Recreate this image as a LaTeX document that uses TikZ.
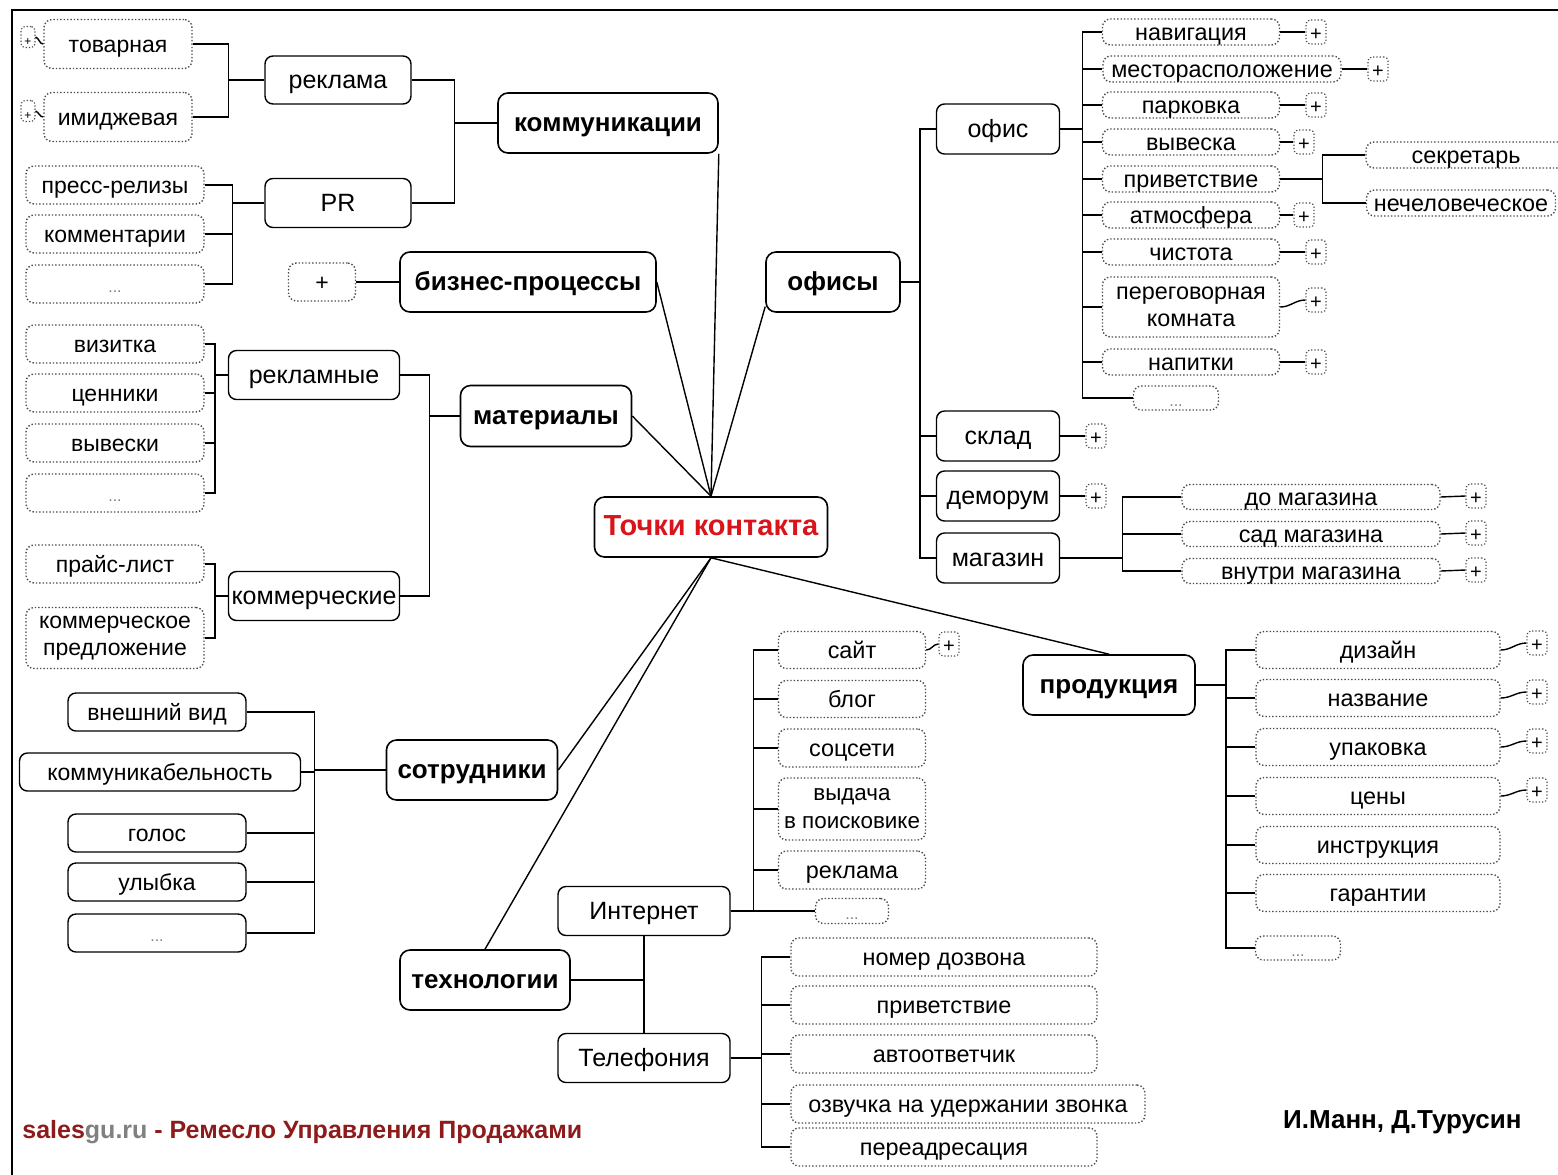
\documentclass[tikz,border=0pt]{standalone}
\usepackage{fontspec}
\setmainfont{Liberation Sans}
\usetikzlibrary{positioning}
\definecolor{hubred}{HTML}{D9141B}
\definecolor{salesred}{HTML}{8E1B1B}

\begin{document}
\begin{tikzpicture}[x=0.5pt, y=-0.5pt,
    every node/.style={inner sep=0pt, font=\fontsize{11.7}{13.5}\selectfont, text height=1.8ex, text depth=0.2ex},
    sz/.style 2 args={minimum width=#1*0.5pt, minimum height=#2*0.5pt},
    twolines/.style={text height={}, text depth={}},
    main/.style={draw, rounded corners=5pt, line width=0.8pt, font=\fontsize{13}{15}\selectfont\bfseries},
    sub/.style={draw, rounded corners=4pt, line width=0.7pt, font=\fontsize{12.5}{14}\selectfont},
    item/.style={draw, rounded corners=4pt, line width=0.7pt, font=\fontsize{11.5}{13}\selectfont},
    leaf/.style={draw=black!70, densely dotted, line width=0.7pt, rounded corners=4pt, align=center},
    lleaf/.style={leaf, font=\fontsize{11.5}{13.5}\selectfont},
    etc/.style={text=gray, font=\fontsize{8}{8}\selectfont},
    plusbox/.style={draw=black!70, densely dotted, line width=0.6pt, rounded corners=2pt, minimum width=10pt, minimum height=12pt, font=\fontsize{10}{10}\selectfont},
    link/.style={line width=0.7pt},
]
\useasboundingbox (0,0) rectangle (1558,1174);
% frame
\draw[line width=1pt] (1560,10) -- (12,10) -- (12,1176);

% centre
\node[main, sz={233}{60}, text=hubred, font=\fontsize{14.5}{16}\selectfont\bfseries] (hub) at (711,527) {Точки контакта};

% main topics
\node[main, sz={220}{60}] (kom) at (608,123) {коммуникации};
\node[main, sz={256}{60}] (biz) at (528,282) {бизнес-процессы};
\node[main, sz={171}{61}] (mat) at (546,416) {материалы};
\node[main, sz={134}{60}] (ofs) at (833,282) {офисы};
\node[main, sz={172}{60}] (prd) at (1109,685) {продукция};
\node[main, sz={171}{60}] (sot) at (472,770) {сотрудники};
\node[main, sz={170}{60}] (tec) at (485,980) {технологии};

% spokes
\draw[link] (hub.north) -- (kom.south east);
\draw[link] (hub.north) -- (biz.east);
\draw[link] (hub.north) -- (mat.east);
\draw[link] (hub.north) -- (ofs.200);
\draw[link] (hub.south) -- (sot.east);
\draw[link] (hub.south) -- (tec.north);
\draw[link] (hub.south) -- (prd.north);

% communications
\node[sub, sz={146}{48}] (rek) at (338,80) {реклама};
\node[sub, sz={146}{49}] (pr) at (338,203) {PR};
\node[lleaf, sz={148}{49}] (tov) at (118,44) {товарная};
\node[lleaf, sz={148}{49}] (imi) at (118,117) {имиджевая};
\node[plusbox, minimum width=7pt, minimum height=7pt, font=\fontsize{6}{6}\selectfont] (tov-p) at (28,37) {+};
\node[plusbox, minimum width=7pt, minimum height=7pt, font=\fontsize{6}{6}\selectfont] (imi-p) at (28,111) {+};
\node[lleaf, sz={178}{38}] (prs) at (115,185) {пресс-релизы};
\node[lleaf, sz={178}{38}] (kmt) at (115,234) {комментарии};
\node[lleaf, etc, sz={178}{38}] (prx) at (115,284) {...};
\foreach \c in {rek,pr} \draw[link] (kom.west) -- ++(-43,0) |- (\c.east);
\foreach \c in {tov,imi} \draw[link] (rek.west) -- ++(-36,0) |- (\c.east);
\foreach \c in {prs,kmt,prx} \draw[link] (pr.west) -- ++(-32,0) |- (\c.east);
\foreach \c in {tov,imi} \draw[link] (\c-p.east) to[out=-20,in=180] (\c.west);

% business processes
\node[lleaf, sz={67}{38}] (biz-p) at (322,282) {+};
\draw[link] (biz.west) -- (biz-p.east);

% materials
\node[sub, sz={171}{49}] (rkn) at (314,375) {рекламные};
\node[sub, sz={171}{49}] (kmc) at (314,596) {коммерческие};
\node[lleaf, sz={178}{38}] (viz) at (115,344) {визитка};
\node[lleaf, sz={178}{38}] (cnn) at (115,393) {ценники};
\node[lleaf, sz={178}{38}] (vvs) at (115,443) {вывески};
\node[lleaf, etc, sz={178}{38}] (rkx) at (115,493) {...};
\node[lleaf, twolines, sz={178}{61}] (kpr) at (115,638) {коммерческое\\предложение};
\node[lleaf, sz={178}{38}] (prl) at (115,564) {прайс-лист};
\foreach \c in {rkn,kmc} \draw[link] (mat.west) -- ++(-30,0) |- (\c.east);
\foreach \c in {viz,cnn,vvs,rkx} \draw[link] (rkn.west) -- ++(-13,0) |- (\c.east);
\foreach \c in {prl,kpr} \draw[link] (kmc.west) -- ++(-13,0) |- (\c.east);

% staff
\node[item, sz={178}{38}] (vnv) at (157,712) {внешний вид};
\node[item, sz={281}{38}] (kmb) at (160,772) {коммуникабельность};
\node[item, sz={178}{38}] (gol) at (157,833) {голос};
\node[item, sz={178}{38}] (uly) at (157,882) {улыбка};
\node[item, etc, sz={178}{38}] (sox) at (157,933) {...};
\foreach \c in {vnv,kmb,gol,uly,sox} \draw[link] (sot.west) -- ++(-71,0) |- (\c.east);

% offices
\node[sub, sz={123}{50}] (ofc) at (998,129) {офис};
\node[sub, sz={123}{50}] (skl) at (998,436) {склад};
\node[sub, sz={123}{50}] (dem) at (998,496) {деморум};
\node[sub, sz={123}{50}] (mag) at (998,558) {магазин};
\foreach \c in {ofc,skl,dem,mag} \draw[link] (ofs.east) -- ++(19,0) |- (\c.west);

\node[leaf, sz={177}{26}] (nav) at (1191,32) {навигация};
\node[leaf, sz={238}{26}] (mst) at (1222,69) {месторасположение};
\node[leaf, sz={177}{26}] (prk) at (1191,105) {парковка};
\node[leaf, sz={177}{26}] (vvk) at (1191,142) {вывеска};
\node[leaf, sz={177}{26}] (prv) at (1191,179) {приветствие};
\node[leaf, sz={177}{26}] (atm) at (1191,215) {атмосфера};
\node[leaf, sz={177}{26}] (cht) at (1191,252) {чистота};
\node[leaf, twolines, sz={177}{60}] (pgk) at (1191,307) {переговорная\\комната};
\node[leaf, sz={177}{26}] (npt) at (1191,362) {напитки};
\node[leaf, etc, sz={85}{24}] (ofx) at (1176,398) {...};
\foreach \c in {nav,mst,prk,vvk,prv,atm,cht,pgk,npt,ofx} \draw[link] (ofc.east) -- ++(22,0) |- (\c.west);

\node[plusbox] (nav-p) at (1316,32) {+};
\node[plusbox] (mst-p) at (1378,69) {+};
\node[plusbox] (prk-p) at (1316,105) {+};
\node[plusbox] (vvk-p) at (1304,142) {+};
\node[plusbox] (atm-p) at (1304,215) {+};
\node[plusbox] (cht-p) at (1316,252) {+};
\node[plusbox] (pgk-p) at (1316,300) {+};
\node[plusbox] (npt-p) at (1316,362) {+};
\foreach \c in {nav,mst,prk,vvk,atm,cht,pgk,npt} \draw[link] (\c.east) to[out=0,in=180] (\c-p.west);

\node[leaf, sz={200}{26}] (sek) at (1466,155) {секретарь};
\node[leaf, sz={189}{26}] (nch) at (1461,203) {нечеловеческое};
\foreach \c in {sek,nch} \draw[link] (prv.east) -- ++(42,0) |- (\c.west);

\node[plusbox] (skl-p) at (1096,436) {+};
\node[plusbox] (dem-p) at (1096,496) {+};
\foreach \c in {skl,dem} \draw[link] (\c.east) -- (\c-p.west);

\node[leaf, sz={258}{25}] (dom) at (1311,497) {до магазина};
\node[leaf, sz={258}{25}] (sad) at (1311,534) {сад магазина};
\node[leaf, sz={258}{25}] (vnm) at (1311,571) {внутри магазина};
\foreach \c in {dom,sad,vnm} \draw[link] (mag.east) -- ++(62,0) |- (\c.west);
\node[plusbox] (dom-p) at (1476,496) {+};
\node[plusbox] (sad-p) at (1476,533) {+};
\node[plusbox] (vnm-p) at (1476,570) {+};
\foreach \c in {dom,sad,vnm} \draw[link] (\c.east) -- (\c-p.west);

% technologies
\node[sub, sz={172}{49}] (int) at (644,911) {Интернет};
\node[sub, sz={172}{49}] (tel) at (644,1058) {Телефония};
\draw[link] (tec.east) -| (int.south);
\draw[link] (int.south) -- (tel.north);

\node[leaf, sz={147}{37}] (saj) at (852,650) {сайт};
\node[leaf, sz={147}{37}] (blg) at (852,699) {блог};
\node[leaf, sz={147}{38}] (soc) at (852,748) {соцсети};
\node[leaf, twolines, sz={147}{62}, font=\fontsize{11.2}{14}\selectfont] (vyd) at (852,809) {выдача\\в поисковике};
\node[leaf, sz={147}{38}] (irk) at (852,870) {реклама};
\node[leaf, etc, sz={73}{25}] (inx) at (852,911) {...};
\foreach \c in {saj,blg,soc,vyd,irk,inx} \draw[link] (int.east) -- ++(23,0) |- (\c.west);
\node[plusbox] (saj-p) at (949,644) {+};
\draw[link] (saj.east) to[out=0,in=180] (saj-p.west);

\node[leaf, sz={306}{38}] (nmd) at (944,957) {номер дозвона};
\node[leaf, sz={306}{38}] (tpr) at (944,1005) {приветствие};
\node[leaf, sz={306}{38}] (avt) at (944,1054) {автоответчик};
\node[leaf, sz={354}{38}] (ozv) at (968,1104) {озвучка на удержании звонка};
\node[leaf, sz={306}{38}] (per) at (944,1147) {переадресация};
\foreach \c in {nmd,tpr,avt,ozv,per} \draw[link] (tel.east) -- ++(31,0) |- (\c.west);

% products
\node[leaf, sz={244}{37}] (diz) at (1378,650) {дизайн};
\node[leaf, sz={244}{37}] (naz) at (1378,698) {название};
\node[leaf, sz={244}{37}] (upk) at (1378,747) {упаковка};
\node[leaf, sz={244}{37}] (cny) at (1378,796) {цены};
\node[leaf, sz={244}{37}] (ins) at (1378,845) {инструкция};
\node[leaf, sz={244}{37}] (gar) at (1378,893) {гарантии};
\node[leaf, etc, sz={85}{24}] (prx2) at (1298,948) {...};
\foreach \c in {diz,naz,upk,cny,ins,gar,prx2} \draw[link] (prd.east) -- ++(30,0) |- (\c.west);
\node[plusbox] (diz-p) at (1537,643) {+};
\node[plusbox] (naz-p) at (1537,692) {+};
\node[plusbox] (upk-p) at (1537,741) {+};
\node[plusbox] (cny-p) at (1537,790) {+};
\foreach \c in {diz,naz,upk,cny} \draw[link] (\c.east) to[out=0,in=180] (\c-p.west);

% footer
\node[anchor=west, font=\fontsize{12.5}{14}\selectfont\bfseries, text=salesred] (site) at (22,1130)
    {sales\textcolor{gray}{gu.ru} - Ремесло Управления Продажами};
\node[anchor=east, font=\fontsize{13}{15}\selectfont\bfseries] (auth) at (1522,1120) {И.Манн, Д.Турусин};
\end{tikzpicture}
\end{document}
